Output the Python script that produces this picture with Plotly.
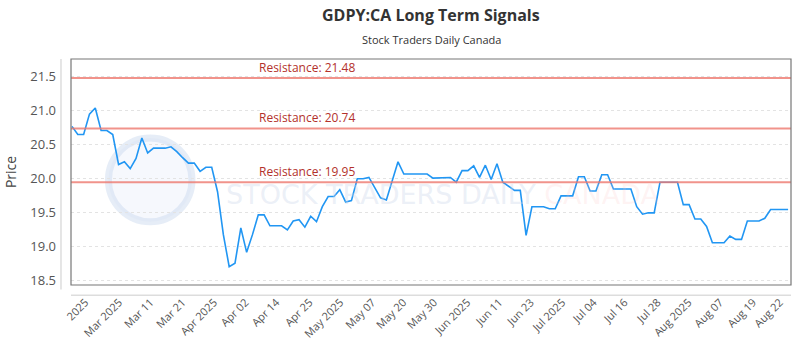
import plotly.graph_objects as go

prices = [20.77, 20.65, 20.65, 20.95, 21.04, 20.71, 20.71, 20.65, 20.21, 20.25,
          20.15, 20.30, 20.60, 20.38, 20.45, 20.45, 20.45, 20.47, 20.40, 20.31,
          20.23, 20.23, 20.11, 20.17, 20.17, 19.81, 19.18, 18.71, 18.76, 19.28,
          18.92, 19.18, 19.47, 19.47, 19.31, 19.31, 19.31, 19.25, 19.38, 19.40,
          19.29, 19.45, 19.37, 19.59, 19.74, 19.74, 19.84, 19.66, 19.68, 20.00,
          20.00, 20.02, 19.86, 19.72, 19.69, 19.97, 20.25, 20.07, 20.07, 20.07,
          20.07, 20.07, 20.01, 20.01, 20.01, 20.02, 19.95, 20.12, 20.12, 20.19,
          20.02, 20.20, 19.99, 20.22, 19.95, 19.89, 19.83, 19.83, 19.17, 19.59,
          19.59, 19.59, 19.56, 19.56, 19.75, 19.75, 19.75, 20.03, 20.03, 19.82,
          19.82, 20.06, 20.06, 19.85, 19.85, 19.85, 19.85, 19.59, 19.48, 19.50,
          19.50, 19.95, 19.95, 19.95, 19.95, 19.62, 19.62, 19.41, 19.41, 19.30,
          19.06, 19.06, 19.06, 19.16, 19.11, 19.11, 19.38, 19.38, 19.38, 19.42,
          19.55, 19.55, 19.55, 19.55]
x_index = list(range(len(prices)))

tick_labels = ["2025", "Mar 2025", "Mar 11", "Mar 21", "Apr 2025", "Apr 02", "Apr 14",
               "Apr 25", "May 2025", "May 07", "May 20", "May 30", "Jun 2025", "Jun 11",
               "Jun 23", "Jul 2025", "Jul 04", "Jul 16", "Jul 28", "Aug 2025", "Aug 07",
               "Aug 19", "Aug 22"]
tick_pos = [2.3, 8.1, 13.5, 19.0, 24.4, 29.8, 35.1, 40.8, 46.1, 51.6, 56.9, 62.2,
            67.9, 73.4, 78.8, 84.2, 89.6, 94.9, 100.6, 105.9, 111.3, 117.0, 121.6]

resistance = [21.48, 20.74, 19.95]

fig = go.Figure()
fig.add_trace(go.Scatter(x=x_index, y=prices, mode="lines",
                         line=dict(color="#2196f3", width=1.6), hoverinfo="skip"))

shapes = []
annotations = []
for r in resistance:
    shapes.append(dict(type="line", xref="paper", yref="y", x0=0, x1=1, y0=r, y1=r,
                       line=dict(color="rgba(238,120,110,0.8)", width=2), layer="above"))
    annotations.append(dict(xref="paper", yref="y", x=0.259, y=r, yshift=0,
                            text=f"Resistance: {r:.2f}", showarrow=False,
                            xanchor="left", yanchor="bottom",
                            font=dict(family="Open Sans", size=12, color="#b3312b")))

# frame
shapes.append(dict(type="rect", xref="paper", yref="paper", x0=0, x1=1, y0=0, y1=1,
                   line=dict(color="#777", width=1.2), layer="above"))
# offset axis lines
shapes.append(dict(type="line", xref="paper", yref="paper", x0=-0.0139, x1=-0.0139,
                   y0=-0.02, y1=1.0, line=dict(color="#ccc", width=1)))
shapes.append(dict(type="line", xref="paper", yref="paper", x0=0, x1=1,
                   y0=-0.045, y1=-0.045, line=dict(color="#ccc", width=1)))
# watermark logo
shapes.append(dict(type="circle", xref="paper", yref="paper",
                   x0=0.052, x1=0.168, y0=0.28, y1=0.65,
                   line=dict(color="rgba(200,215,238,0.45)", width=7),
                   fillcolor="rgba(228,236,250,0.35)", layer="below"))

annotations.append(dict(xref="paper", yref="paper", x=0.516, y=0.40,
                        text="STOCK TRADERS DAILY <span style='color:rgba(250,195,195,0.5)'>CANADA</span>",
                        showarrow=False,
                        font=dict(family="DejaVu Sans", size=27, color="rgba(205,215,235,0.4)")))

annotations.append(dict(xref="paper", yref="paper", x=0.5, y=1.0, yshift=44,
                        text="<b>GDPY:CA Long Term Signals</b>", showarrow=False,
                        xanchor="center", yanchor="middle",
                        font=dict(family="Open Sans", size=16, color="#333")))
annotations.append(dict(xref="paper", yref="paper", x=0.5, y=1.0, yshift=20,
                        text="Stock Traders Daily Canada", showarrow=False,
                        xanchor="center", yanchor="middle",
                        font=dict(family="Open Sans", size=11, color="#333")))

fig.update_layout(
    width=800, height=350,
    margin=dict(l=70.7, r=9.3, t=59, b=65),
    plot_bgcolor="white", paper_bgcolor="white",
    showlegend=False,
    shapes=shapes, annotations=annotations,
    xaxis=dict(range=[-0.17, 123.5], tickmode="array", tickvals=tick_pos,
               ticktext=tick_labels, tickangle=-45, showgrid=False, zeroline=False,
               showline=False, ticks="", ticklabelstandoff=8,
               tickfont=dict(family="Open Sans", size=11, color="#555")),
    yaxis=dict(range=[18.44, 21.76], tickmode="array",
               tickvals=[18.5, 19.0, 19.5, 20.0, 20.5, 21.0, 21.5],
               ticktext=["18.5", "19.0", "19.5", "20.0", "20.5", "21.0", "21.5"],
               showgrid=True, gridcolor="#e3e3e3", griddash="dot", gridwidth=1,
               zeroline=False, showline=False, ticks="", ticklabelstandoff=14,
               tickfont=dict(family="Open Sans", size=13, color="#555"),
               title=dict(text="Price", standoff=10,
                          font=dict(family="Open Sans", size=14, color="#444"))),
)

fig.write_html("out.html")
